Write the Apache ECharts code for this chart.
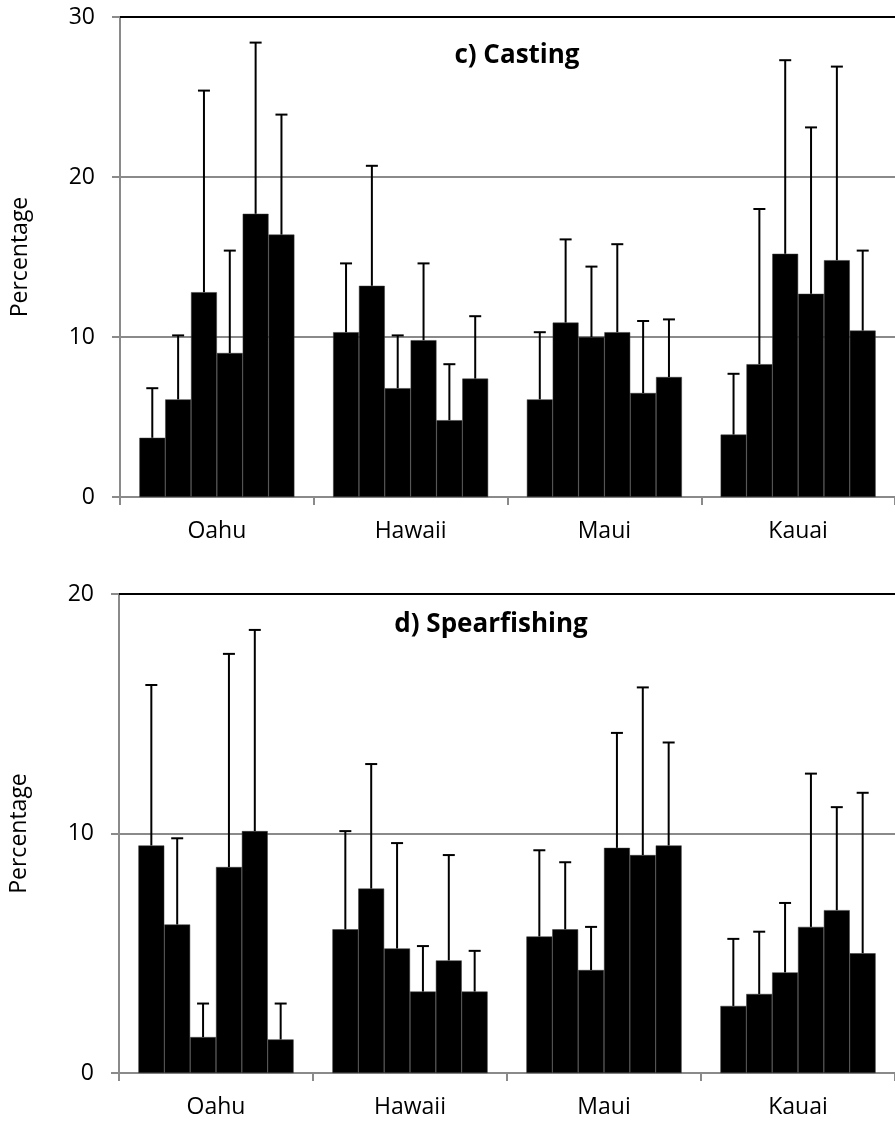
<!DOCTYPE html>
<html>
<head>
<meta charset="utf-8">
<script src="https://cdn.jsdelivr.net/npm/echarts@6/dist/echarts.min.js"></script>
<style>
  html, body { margin: 0; padding: 0; background: #fff; }
  #main { width: 895px; height: 1126px; }
</style>
</head>
<body>
<div id="main"></div>
<script>
// islands on the x axis, six bars per island
var islands = ['Oahu', 'Hawaii', 'Maui', 'Kauai'];
var yTicksCast = [0, 10, 20, 30];
var yTicksSpear = [0, 10, 20];

// c) Casting - bar heights and top of error bar, per island
var castOahu = [3.7, 6.1, 12.8, 9.0, 17.7, 16.4];
var castHawaii = [10.3, 13.2, 6.8, 9.8, 4.8, 7.4];
var castMaui = [6.1, 10.9, 10.0, 10.3, 6.5, 7.5];
var castKauai = [3.9, 8.3, 15.2, 12.7, 14.8, 10.4];
var castOahuUp = [6.8, 10.1, 25.4, 15.4, 28.4, 23.9];
var castHawaiiUp = [14.6, 20.7, 10.1, 14.6, 8.3, 11.3];
var castMauiUp = [10.3, 16.1, 14.4, 15.8, 11.0, 11.1];
var castKauaiUp = [7.7, 18.0, 27.3, 23.1, 26.9, 15.4];

// d) Spearfishing
var spearOahu = [9.5, 6.2, 1.5, 8.6, 10.1, 1.4];
var spearHawaii = [6.0, 7.7, 5.2, 3.4, 4.7, 3.4];
var spearMaui = [5.7, 6.0, 4.3, 9.4, 9.1, 9.5];
var spearKauai = [2.8, 3.3, 4.2, 6.1, 6.8, 5.0];
var spearOahuUp = [16.2, 9.8, 2.9, 17.5, 18.5, 2.9];
var spearHawaiiUp = [10.1, 12.9, 9.6, 5.3, 9.1, 5.1];
var spearMauiUp = [9.3, 8.8, 6.1, 14.2, 16.1, 13.8];
var spearKauaiUp = [5.6, 5.9, 7.1, 12.5, 11.1, 11.7];

var castMean = [castOahu, castHawaii, castMaui, castKauai];
var castUp = [castOahuUp, castHawaiiUp, castMauiUp, castKauaiUp];
var spearMean = [spearOahu, spearHawaii, spearMaui, spearKauai];
var spearUp = [spearOahuUp, spearHawaiiUp, spearMauiUp, spearKauaiUp];

var GRAY = '#8a8a8a';
var FONT = 'Open Sans';

function errRender(params, api) {
    var cat = api.value(0), mean = api.value(1), high = api.value(2), k = api.value(3);
    var band = api.size([1, 0])[0];
    var bw = band * 0.8 / 6;
    var c = api.coord([cat, mean]);
    var x = c[0] - band * 0.4 + (k + 0.5) * bw;
    var yTop = api.coord([cat, high])[1];
    var st = { stroke: '#000', lineWidth: 2 };
    return {
        type: 'group',
        children: [
            { type: 'line', shape: { x1: x, y1: c[1], x2: x, y2: yTop }, style: st },
            { type: 'line', shape: { x1: x - 6, y1: yTop, x2: x + 6, y2: yTop }, style: st }
        ]
    };
}

function barSeries(means, ups, axisIdx) {
    var out = [];
    var errData = [];
    for (var k = 0; k < 6; k++) {
        var d = [];
        for (var i = 0; i < islands.length; i++) {
            d.push(means[i][k]);
            errData.push([i, means[i][k], ups[i][k], k]);
        }
        out.push({
            type: 'bar',
            xAxisIndex: axisIdx,
            yAxisIndex: axisIdx,
            data: d,
            barGap: '0%',
            barCategoryGap: '20%',
            itemStyle: { color: '#000', borderColor: '#3a3a3a', borderWidth: 0.5 },
            z: 2
        });
    }
    out.push({
        type: 'custom',
        xAxisIndex: axisIdx,
        yAxisIndex: axisIdx,
        renderItem: errRender,
        data: errData,
        encode: { x: 0, y: 2 },
        z: 3
    });
    return out;
}

function catAxis(g) {
    return {
        type: 'category', gridIndex: g, data: islands,
        axisLine: { lineStyle: { color: GRAY, width: 2 } },
        axisTick: { show: true, length: 8, interval: 0, lineStyle: { color: GRAY, width: 2 } },
        axisLabel: { color: '#000', fontSize: 23, fontFamily: FONT, margin: 23 }
    };
}
function topAxis(g) {
    return {
        type: 'category', gridIndex: g, data: islands, position: 'top',
        axisLine: { lineStyle: { color: '#000', width: 2 } },
        axisTick: { show: false }, axisLabel: { show: false }
    };
}
function valAxis(g, ticks) {
    return {
        type: 'value', gridIndex: g, min: ticks[0], max: ticks[ticks.length - 1], interval: 10,
        name: 'Percentage', nameLocation: 'middle', nameGap: 88,
        nameTextStyle: { color: '#000', fontSize: 23, fontFamily: FONT },
        axisLine: { show: true, lineStyle: { color: GRAY, width: 2 } },
        axisTick: { show: true, length: 8, lineStyle: { color: GRAY, width: 2 } },
        axisLabel: { color: '#000', fontSize: 23, fontFamily: FONT, margin: 25 },
        splitLine: { lineStyle: { color: GRAY, width: 2 } }
    };
}

var myChart = echarts.init(document.getElementById('main'));
var option = {
    animation: false,
    backgroundColor: '#fff',
    textStyle: { fontFamily: FONT },
    grid: [
        { left: 120, right: -6, top: 17, bottom: 629 },
        { left: 115.5, right: -1, top: 594, bottom: 53 }
    ],
    xAxis: [catAxis(0), catAxis(1), topAxis(0), topAxis(1)],
    yAxis: [valAxis(0, yTicksCast), valAxis(1, yTicksSpear)],
    graphic: [
        { type: 'text', x: 517, y: 56, style: { text: 'c) Casting', font: 'bold 26px "Open Sans"', fill: '#000', align: 'center', verticalAlign: 'middle' } },
        { type: 'text', x: 491, y: 625, style: { text: 'd) Spearfishing', font: 'bold 26px "Open Sans"', fill: '#000', align: 'center', verticalAlign: 'middle' } }
    ],
    series: barSeries(castMean, castUp, 0).concat(barSeries(spearMean, spearUp, 1))
};
myChart.setOption(option);
</script>
</body>
</html>
